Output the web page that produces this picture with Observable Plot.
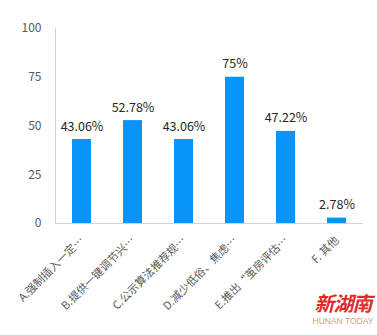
<!DOCTYPE html>
<html><head><meta charset="utf-8">
<script src="https://cdn.jsdelivr.net/npm/d3@7"></script>
<script src="https://cdn.jsdelivr.net/npm/@observablehq/plot@0.6"></script>
<style>
body{margin:0;background:#fff;}
#wrap{position:relative;width:377px;height:335px;font-family:"Noto Sans CJK SC","Noto Sans",sans-serif;}
#logo{position:absolute;left:312px;top:290px;width:62px;text-align:center;}
#logo .cn{color:#e02a2a;font-size:20px;font-weight:bold;font-style:italic;line-height:26px;letter-spacing:-1px;}
#logo .en{color:#c9a877;font-size:8.5px;line-height:11px;font-family:"Liberation Sans",sans-serif;}
</style></head>
<body><div id="wrap"></div>
<script>
const categories = ["A.强制插入一定…","B.提供一键调节兴…","C.公示算法推荐规…","D.减少低俗、焦虑…","E.推出“茧房评估…","F. 其他"];
const values = [43.06, 52.78, 43.06, 75, 47.22, 2.78];
const valueLabels = ["43.06%","52.78%","43.06%","75%","47.22%","2.78%"];
const yTicks = [0,25,50,75,100];

const data = categories.map((c,i)=>({cat:c, v:values[i], lab:valueLabels[i]}));

const chart = Plot.plot({
  width: 377, height: 335,
  marginLeft: 55, marginRight: 14, marginTop: 28, marginBottom: 112,
  style: {fontFamily: '"Noto Sans CJK SC","Noto Sans",sans-serif', background: "#fff"},
  x: {domain: categories, paddingInner: 0.63, paddingOuter: 0.315, label: null},
  y: {domain: [0,100], label: null},
  marks: [
    Plot.axisY({ticks: yTicks, tickSize: 0, tickPadding: 14, fontSize: 12, color: "#595959", label: null}),
    Plot.axisX({tickSize: 0, tickPadding: 15, tickRotate: -45, fontSize: 11, color: "#595959", label: null}),
    Plot.frame({anchor: "left", stroke: "#c9d3e6"}),
    Plot.barY(data, {x: "cat", y: "v", fill: "#0994fa"}),
    Plot.ruleY([0], {stroke: "#c9d3e6"}),
    Plot.text(data, {x: "cat", y: "v", text: "lab", dy: -9, lineAnchor: "bottom", fontSize: 12.5, fill: "#262626"})
  ]
});
const wrap = document.getElementById("wrap");
wrap.appendChild(chart);
const logo = document.createElement("div");
logo.id = "logo";
logo.innerHTML = '<div class="cn">新湖南</div><div class="en">HUNAN TODAY</div>';
wrap.appendChild(logo);
</script></body></html>
